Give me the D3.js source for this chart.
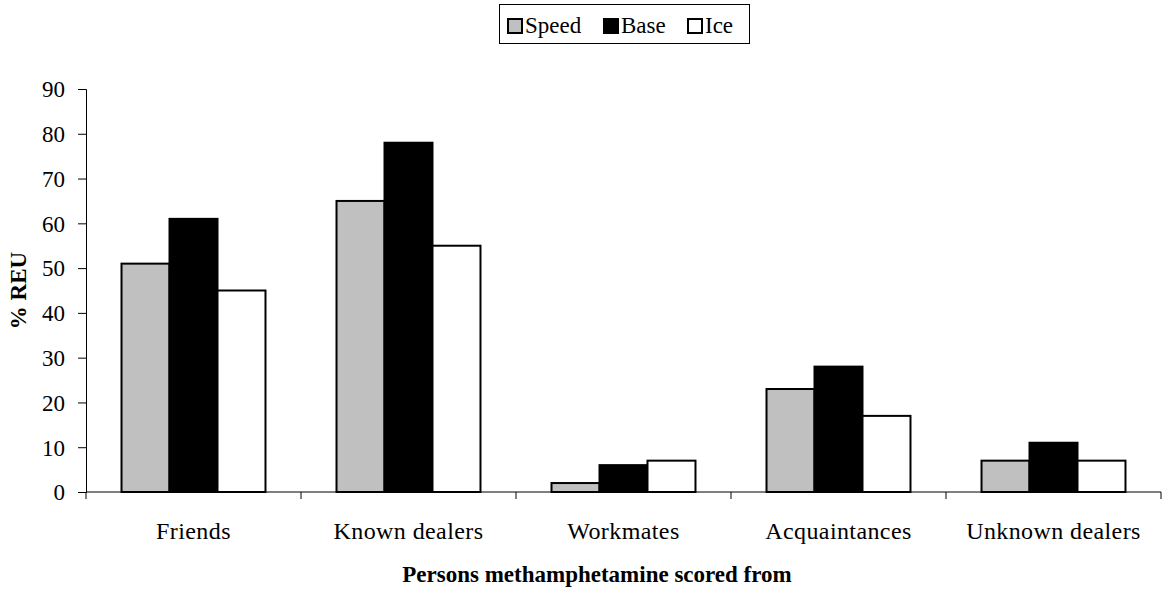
<!DOCTYPE html>
<html><head><meta charset="utf-8">
<script src="https://cdn.jsdelivr.net/npm/d3@7"></script>
<style>body{margin:0;background:#fff;} text{font-family:"Liberation Serif","Times New Roman",serif;}</style>
</head><body>
<svg id="c" width="1165" height="590"></svg>
<script>
const categories = ["Friends","Known dealers","Workmates","Acquaintances","Unknown dealers"];
const seriesNames = ["Speed","Base","Ice"];
const speed = [51,65,2,23,7];
const base = [61,78,6,28,11];
const ice = [45,55,7,17,7];
const yTicks = [0,10,20,30,40,50,60,70,80,90];
const colors = ["#c0c0c0","#000000","#ffffff"];

(function(){
const FS = 23;
const seriesVals = [speed, base, ice];
const svg = d3.select("#c");
const pL = 86, pR = 1161, pT = 89, pB = 492;

const x = d3.scaleBand().domain(categories).range([pL, pR]).paddingInner(0).paddingOuter(0);
const inner = d3.scaleBand().domain(seriesNames).range([0, x.bandwidth()]).paddingInner(0).paddingOuter(0.74);
const y = d3.scaleLinear().domain([0,90]).range([pB, pT]);

// bars
seriesNames.forEach((s, si) => {
  svg.append("g").selectAll("rect").data(categories).join("rect")
    .attr("x", d => x(d) + inner(s))
    .attr("y", (d,i) => y(seriesVals[si][i]))
    .attr("width", inner.bandwidth())
    .attr("height", (d,i) => y(0) - y(seriesVals[si][i]))
    .attr("fill", colors[si])
    .attr("stroke", "#000")
    .attr("stroke-width", 2);
});

// y axis
const yAxis = d3.axisLeft(y).tickValues(yTicks).tickSize(8).tickPadding(13);
const gy = svg.append("g").attr("transform", `translate(${pL},0)`).call(yAxis);
gy.attr("font-family", null).attr("font-size", null);
gy.select(".domain").attr("stroke","#000");
gy.selectAll("text").attr("font-size", FS).attr("fill","#000").attr("dy", "0.34em");

// x axis
const xb = d3.scaleLinear().domain([0, categories.length]).range([pL, pR]);
const gx = svg.append("g").attr("transform", `translate(0,${pB})`);
gx.append("line").attr("x1", pL).attr("x2", pR).attr("stroke","#000");
gx.selectAll("line.t").data(d3.range(0, categories.length+1)).join("line").attr("class","t")
  .attr("x1", d => xb(d)).attr("x2", d => xb(d)).attr("y1", 0).attr("y2", 7).attr("stroke","#000");
gx.selectAll("text").data(categories).join("text")
  .attr("x", d => x(d) + x.bandwidth()/2).attr("y", 47)
  .attr("text-anchor","middle").attr("font-size", 24).attr("letter-spacing", 0.4).text(d => d);

// axis titles
svg.append("text").attr("x", 597).attr("y", 582).attr("text-anchor","middle")
  .attr("font-size", FS).attr("font-weight","bold").text("Persons methamphetamine scored from");
svg.append("text").attr("transform", `translate(26,${(pT+pB)/2}) rotate(-90)`)
  .attr("text-anchor","middle").attr("font-size", FS).attr("font-weight","bold").text("% REU");

// legend
const lg = svg.append("g");
lg.append("rect").attr("x", 499.5).attr("y", 4.5).attr("width", 250).attr("height", 39)
  .attr("fill","#fff").attr("stroke","#000").attr("stroke-width",1);
const lx = [508, 604, 688];
seriesNames.forEach((s, i) => {
  lg.append("rect").attr("x", lx[i]).attr("y", 19).attr("width", 14).attr("height", 14)
    .attr("fill", colors[i]).attr("stroke","#000").attr("stroke-width",2);
  lg.append("text").attr("x", lx[i] + 17).attr("y", 33).attr("font-size", FS).text(s);
});
})();
</script>
</body></html>
